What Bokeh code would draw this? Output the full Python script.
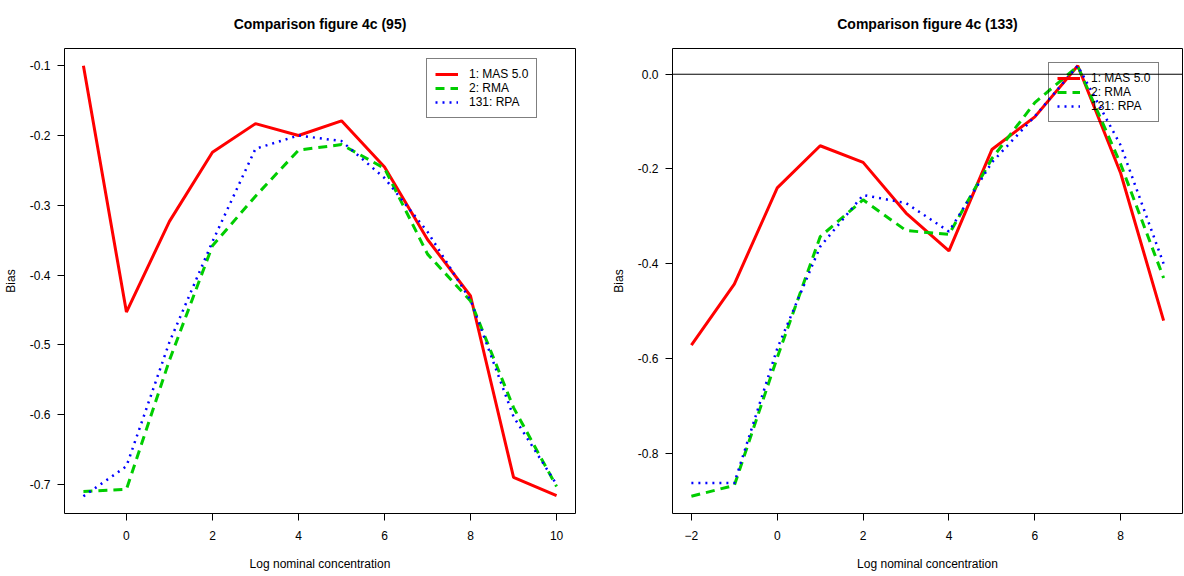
from bokeh.plotting import figure
from bokeh.layouts import row
from bokeh.models import Span, Legend, LegendItem, FixedTicker, Range1d, Title
from bokeh.embed import file_html
from bokeh.resources import INLINE

# ---- data: panel "Comparison figure 4c (95)" ----
x95 = [-1, 0, 1, 2, 3, 4, 5, 6, 7, 8, 9, 10]
mas95 = [-0.100, -0.453, -0.323, -0.224, -0.183, -0.200, -0.179, -0.245, -0.349, -0.430, -0.690, -0.716]
rma95 = [-0.710, -0.707, -0.522, -0.358, -0.287, -0.221, -0.213, -0.247, -0.370, -0.437, -0.590, -0.703]
rpa95 = [-0.717, -0.674, -0.496, -0.352, -0.219, -0.200, -0.208, -0.261, -0.338, -0.436, -0.603, -0.700]
xticks95 = [0, 2, 4, 6, 8, 10]
yticks95 = [-0.7, -0.6, -0.5, -0.4, -0.3, -0.2, -0.1]
yticklabels95 = ["-0.7", "-0.6", "-0.5", "-0.4", "-0.3", "-0.2", "-0.1"]

# ---- data: panel "Comparison figure 4c (133)" ----
x133 = [-2, -1, 0, 1, 2, 3, 4, 5, 6, 7, 8, 9]
mas133 = [-0.572, -0.443, -0.240, -0.151, -0.186, -0.293, -0.373, -0.159, -0.090, 0.018, -0.209, -0.520]
rma133 = [-0.891, -0.868, -0.598, -0.343, -0.265, -0.330, -0.338, -0.178, -0.060, 0.017, -0.190, -0.430]
rpa133 = [-0.863, -0.863, -0.579, -0.364, -0.255, -0.272, -0.332, -0.186, -0.089, 0.018, -0.150, -0.400]
xticks133 = [-2, 0, 2, 4, 6, 8]
yticks133 = [-0.8, -0.6, -0.4, -0.2, 0.0]
yticklabels133 = ["-0.8", "-0.6", "-0.4", "-0.2", "0.0"]

labels = ["1: MAS 5.0", "2: RMA", "131: RPA"]
FONT = "Liberation Sans"


def make_panel(title, xs, series, xticks, yticks, yticklabels, bl, br, leg_loc, zero_line):
    xmin, xmax = min(xs), max(xs)
    ally = [v for s in series for v in s]
    ymin, ymax = min(ally), max(ally)
    dx = (xmax - xmin) * 0.04
    dy = (ymax - ymin) * 0.04
    p = figure(width=592, height=576,
               x_range=Range1d(xmin - dx, xmax + dx),
               y_range=Range1d(ymin - dy, ymax + dy),
               output_backend="svg", toolbar_location=None,
               min_border_left=bl, min_border_right=br,
               min_border_top=47, min_border_bottom=63)
    p.title = Title(text=title, align="center", text_font=FONT,
                    text_font_size="14px", text_font_style="bold",
                    text_color="black", standoff=30, vertical_align="top")
    p.xgrid.visible = False
    p.ygrid.visible = False
    p.outline_line_color = "black"
    p.outline_line_width = 1
    p.background_fill_color = "white"
    p.border_fill_color = "white"

    p.xaxis.ticker = FixedTicker(ticks=xticks)
    p.yaxis.ticker = FixedTicker(ticks=yticks)
    p.yaxis.major_label_overrides = {t: s for t, s in zip(yticks, yticklabels)}
    for ax in (p.xaxis[0], p.yaxis[0]):
        ax.axis_line_color = None
        ax.major_tick_line_color = "black"
        ax.major_tick_out = 7
        ax.major_tick_in = 0
        ax.minor_tick_line_color = None
        ax.major_label_text_font = FONT
        ax.major_label_text_font_size = "12px"
        ax.major_label_text_color = "black"
        ax.axis_label_text_font = FONT
        ax.axis_label_text_font_size = "12px"
        ax.axis_label_text_font_style = "normal"
        ax.axis_label_text_color = "black"
    p.yaxis.major_label_standoff = 7
    p.xaxis.major_label_standoff = 10
    p.xaxis.axis_label = "Log nominal concentration"
    p.xaxis.axis_label_standoff = 14
    p.yaxis.axis_label = "Bias"
    p.yaxis.axis_label_standoff = 9

    if zero_line:
        p.add_layout(Span(location=0, dimension="width", line_color="black", line_width=1))

    r1 = p.line(xs, series[0], line_color="#FF0000", line_width=3)
    r2 = p.line(xs, series[1], line_color="#00CD00", line_width=3, line_dash="9 6")
    r3 = p.line(xs, series[2], line_color="#0000FF", line_width=2.5, line_dash="2 5")

    legend = Legend(items=[LegendItem(label=labels[0], renderers=[r1]),
                           LegendItem(label=labels[1], renderers=[r2]),
                           LegendItem(label=labels[2], renderers=[r3])],
                    location=leg_loc, border_line_color="black", border_line_width=1,
                    background_fill_alpha=0, label_text_font=FONT,
                    label_text_font_size="12px", label_text_color="black",
                    glyph_width=23, glyph_height=14, label_height=14,
                    label_standoff=11, padding=8, spacing=0, margin=0)
    p.add_layout(legend)
    return p


p1 = make_panel("Comparison figure 4c (95)", x95, [mas95, rma95, rpa95],
                xticks95, yticks95, yticklabels95, 64, 17, (362, 395), False)
p2 = make_panel("Comparison figure 4c (133)", x133, [mas133, rma133, rpa133],
                xticks133, yticks133, yticklabels133, 80, 2, (376, 391), True)

layout = row(p1, p2)
open("out.html", "w").write(file_html(layout, INLINE))
